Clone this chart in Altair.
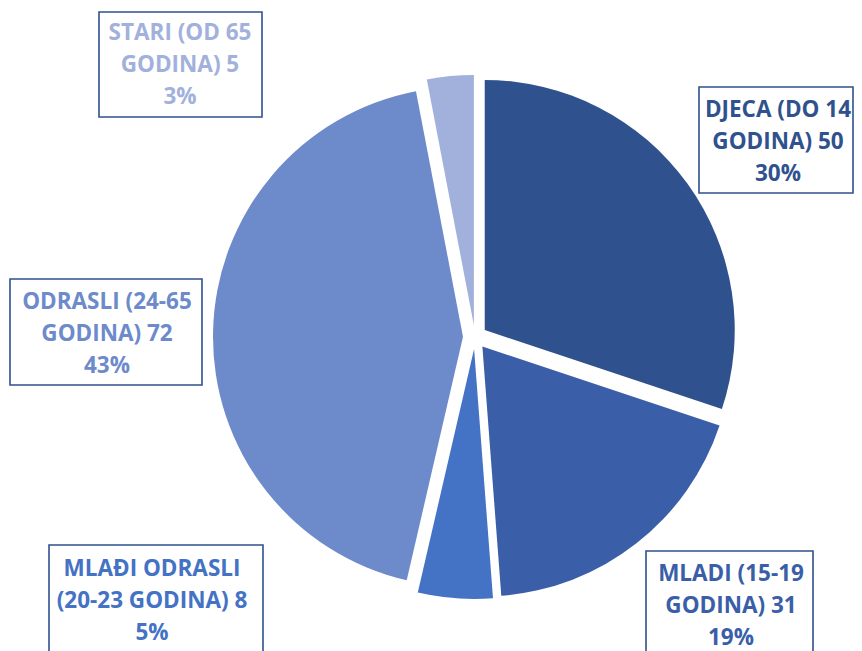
import math
import altair as alt
import pandas as pd

# ---- data ----
categories = [
    "DJECA (DO 14 GODINA)",
    "MLADI (15-19 GODINA)",
    "MLAĐI ODRASLI (20-23 GODINA)",
    "ODRASLI (24-65 GODINA)",
    "STARI (OD 65 GODINA)",
]
values = [50, 31, 8, 72, 5]
label_head = ["DJECA (DO 14", "MLADI (15-19", "MLAĐI ODRASLI", "ODRASLI (24-65", "STARI (OD 65"]
label_tail = ["GODINA)", "GODINA)", "(20-23 GODINA)", "GODINA)", "GODINA)"]
colors = ["#2F528F", "#3A5FA8", "#4472C4", "#6D8ACB", "#A1B1DC"]

# ---- layout (chart pixel coordinates) ----
CX, CY, R, EXPLODE = 467, 329, 250, 12
box_layout = [  # x1, y1, x2, y2, text x, first-line y
    (691, 79, 845, 185, 770, 102),
    (638, 543, 805, 660, 723, 566),
    (41, 537, 255, 660, 144, 561),
    (2, 271, 194, 377, 99, 294),
    (91, 4, 254, 109, 172, 25),
]

total = sum(values)
rows = []
cum = 0
for cat, v, col in zip(categories, values, colors):
    t0 = cum / total * 2 * math.pi
    cum += v
    t1 = cum / total * 2 * math.pi
    mid = (t0 + t1) / 2
    rows.append({
        "category": cat, "value": v, "color": col,
        "t0": t0, "t1": t1,
        "px": CX + EXPLODE * math.sin(mid),
        "py": CY - EXPLODE * math.cos(mid),
    })
arcs_df = pd.DataFrame(rows)

lab_rows = []
for cat, v, col, h, t, b in zip(categories, values, colors, label_head, label_tail, box_layout):
    pct = round(v / total * 100)
    lab_rows.append({
        "category": cat, "color": col,
        "text": f"{h}\n{t} {v}\n{pct}%",
        "x1": b[0], "y1": b[1], "x2": b[2], "y2": b[3], "tx": b[4], "ty": b[5],
    })
lab_df = pd.DataFrame(lab_rows)

arcs = alt.Chart(arcs_df).mark_arc(radius=R, stroke=None).encode(
    x=alt.X("px:Q", scale=None, axis=None, stack=None),
    y=alt.Y("py:Q", scale=None, axis=None, stack=None),
    theta=alt.Theta("t0:Q", scale=None, stack=None),
    theta2=alt.Theta2("t1:Q"),
    fill=alt.Color("color:N", scale=None, legend=None),
)

boxes = alt.Chart(lab_df).mark_rect(fill="white", stroke="#2F528F", strokeWidth=1.6).encode(
    x=alt.X("x1:Q", scale=None, axis=None),
    x2="x2:Q",
    y=alt.Y("y1:Q", scale=None, axis=None),
    y2="y2:Q",
)

texts = alt.Chart(lab_df).mark_text(
    font="Open Sans", fontWeight="bold", fontSize=22.5, lineBreak="\n", lineHeight=32,
    align="center", baseline="middle",
).encode(
    x=alt.X("tx:Q", scale=None, axis=None),
    y=alt.Y("ty:Q", scale=None, axis=None),
    text="text:N",
    color=alt.Color("color:N", scale=None, legend=None),
)

chart = alt.layer(arcs, boxes, texts).properties(
    width=846, height=643, autosize="none", padding=0
).configure_view(stroke=None)

chart.save("out.html", embed_options={"renderer": "svg", "actions": False})
